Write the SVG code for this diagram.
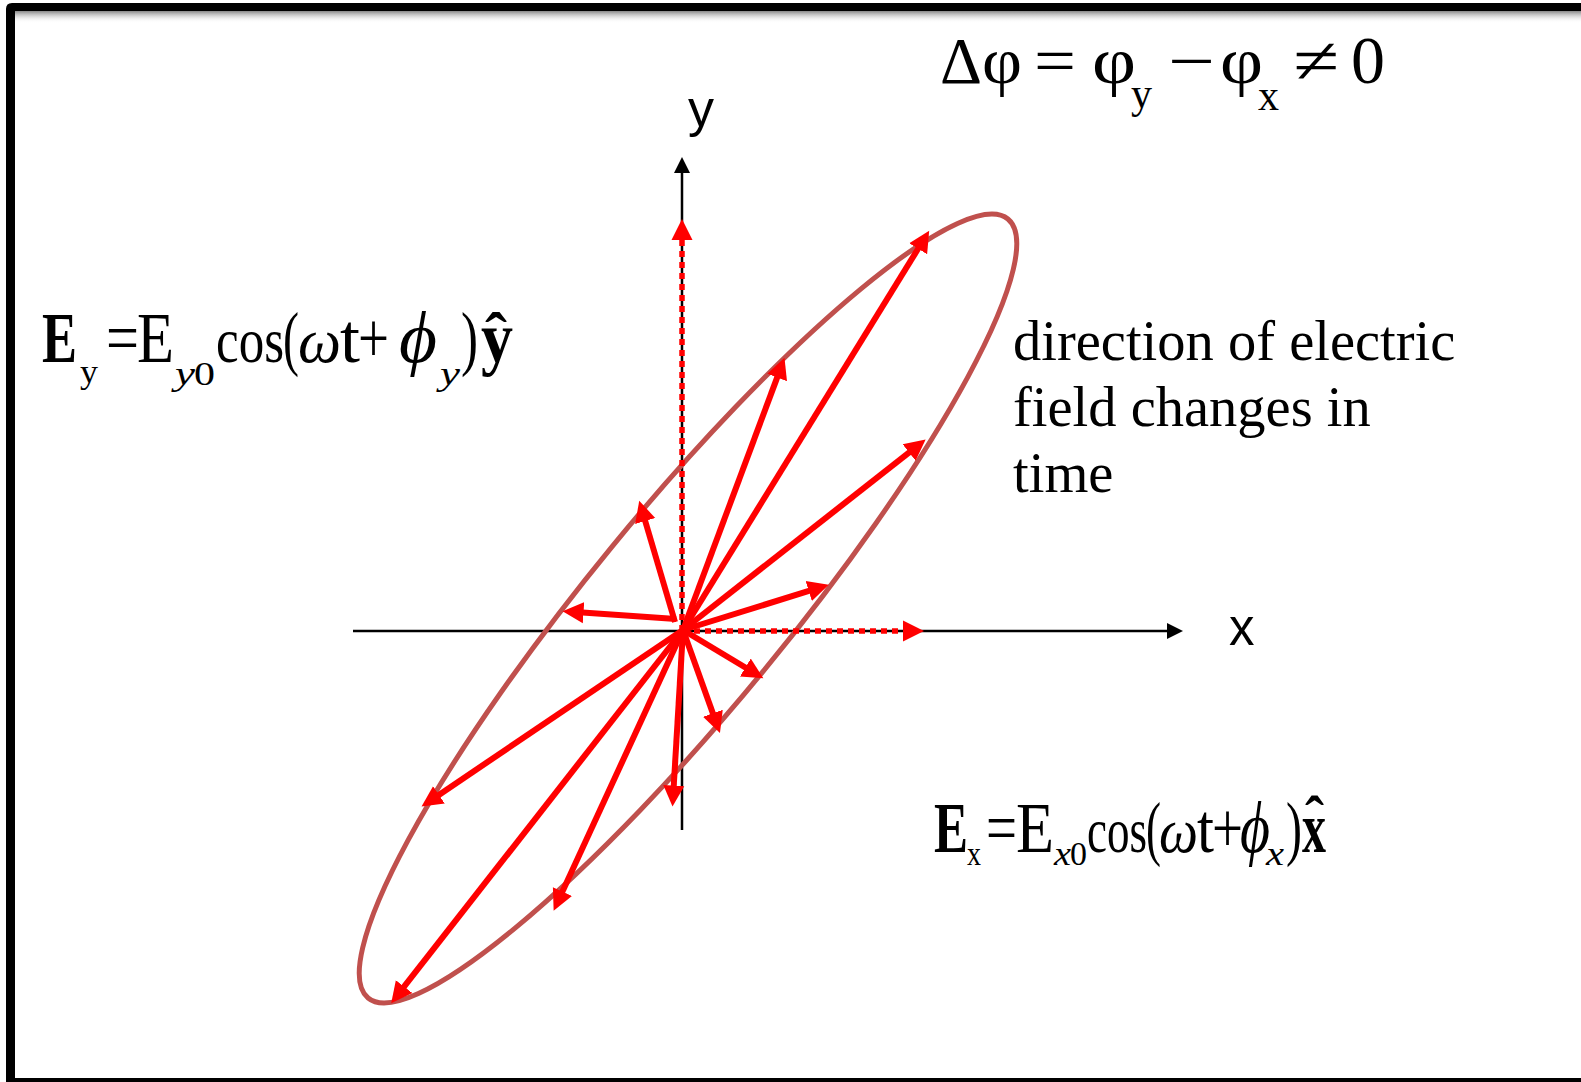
<svg xmlns="http://www.w3.org/2000/svg" width="1581" height="1082" viewBox="0 0 1581 1082">
<defs>
<style>
.s{font-family:"Liberation Serif","Times New Roman",serif;fill:#000}
.a{font-family:"Liberation Sans",Arial,sans-serif;fill:#000}
.b{font-weight:bold}
.i{font-style:italic}
.ax{stroke:#000;stroke-width:2.5;fill:none}
.ev{stroke:#FF0000;stroke-width:6;fill:none}
.dash{stroke:#FF0000;stroke-width:5.5;fill:none;stroke-dasharray:6 5}
</style>
<marker id="ra" markerUnits="userSpaceOnUse" markerWidth="24" markerHeight="24" viewBox="0 -12 24 24" refX="1" refY="0" orient="auto">
<path d="M0,-10.5 L21,0 L0,10.5 z" fill="#FF0000"/>
</marker>
<marker id="ba" markerUnits="userSpaceOnUse" markerWidth="18" markerHeight="18" viewBox="0 -9 18 18" refX="0" refY="0" orient="auto">
<path d="M0,-8 L16,0 L0,8 z" fill="#000"/>
</marker>
<linearGradient id="sh" x1="0" y1="0" x2="0" y2="1">
<stop offset="0" stop-color="#888"/>
<stop offset="1" stop-color="#fff" stop-opacity="0"/>
</linearGradient>
</defs>
<rect width="1581" height="1082" fill="#fff"/>
<g id="frame">
<rect x="15" y="11" width="1566" height="12" fill="url(#sh)"/>
<path d="M6,1082 L6,9 Q6,3 12,3 L1581,3 L1581,11 L15,11 L15,1078 L1581,1078 L1581,1082 z" fill="#000"/>
</g>
<g id="axes">
<line class="ax" x1="682" y1="830" x2="682" y2="173" marker-end="url(#ba)"/>
<line class="ax" x1="353" y1="631" x2="1167" y2="631" marker-end="url(#ba)"/>
</g>
<g id="ellipse">
<ellipse cx="688" cy="608.5" rx="504" ry="98" transform="rotate(-50.6 688 608.5)" fill="none" stroke="#C0504D" stroke-width="5"/>
</g>
<g id="connectors">
<line class="dash" x1="682" y1="631" x2="682" y2="239" marker-end="url(#ra)"/>
<line class="dash" x1="683" y1="631" x2="904" y2="631" marker-end="url(#ra)"/>
<line class="ev" x1="683" y1="630" x2="918.7" y2="247.8" marker-end="url(#ra)"/>
<line class="ev" x1="683" y1="630" x2="777.5" y2="376.6" marker-end="url(#ra)"/>
<line class="ev" x1="683" y1="630" x2="909.9" y2="451.9" marker-end="url(#ra)"/>
<line class="ev" x1="683" y1="630" x2="809.7" y2="590.7" marker-end="url(#ra)"/>
<line class="ev" x1="683" y1="630" x2="746.2" y2="668.0" marker-end="url(#ra)"/>
<line class="ev" x1="683" y1="630" x2="713.2" y2="714.2" marker-end="url(#ra)"/>
<line class="ev" x1="683" y1="630" x2="673.7" y2="786.6" marker-end="url(#ra)"/>
<line class="ev" x1="683" y1="630" x2="562.0" y2="892.5" marker-end="url(#ra)"/>
<line class="ev" x1="683" y1="630" x2="403.5" y2="987.4" marker-end="url(#ra)"/>
<line class="ev" x1="683" y1="630" x2="438.1" y2="795.4" marker-end="url(#ra)"/>
<line class="ev" x1="676" y1="619" x2="582.5" y2="612.6" marker-end="url(#ra)"/>
<line class="ev" x1="675" y1="622" x2="644.9" y2="520.0" marker-end="url(#ra)"/>
</g>
<g id="label-y"><text class="a" x="688" y="126" font-size="52">y</text></g>
<g id="label-x"><text class="a" x="1229" y="645" font-size="51">x</text></g>
<g id="eq-dphi">
<text class="s" x="940" y="83" font-size="66" textLength="42" lengthAdjust="spacingAndGlyphs">Δ</text>
<text class="s" x="982" y="83" font-size="66" textLength="40" lengthAdjust="spacingAndGlyphs">φ</text>
<text class="s" x="1034" y="83" font-size="66" textLength="42" lengthAdjust="spacingAndGlyphs">=</text>
<text class="s" x="1092" y="83" font-size="66" textLength="44" lengthAdjust="spacingAndGlyphs">φ</text>
<text class="s" x="1131" y="108" font-size="44" textLength="21" lengthAdjust="spacingAndGlyphs">y</text>
<text class="s" x="1168" y="83" font-size="66" textLength="47" lengthAdjust="spacingAndGlyphs">−</text>
<text class="s" x="1220" y="83" font-size="66" textLength="43" lengthAdjust="spacingAndGlyphs">φ</text>
<text class="s" x="1258" y="110" font-size="44" textLength="21" lengthAdjust="spacingAndGlyphs">x</text>
<text class="s" x="1293" y="83" font-size="66" textLength="46" lengthAdjust="spacingAndGlyphs">≠</text>
<text class="s" x="1351" y="83" font-size="68" textLength="34" lengthAdjust="spacingAndGlyphs">0</text>
</g>
<g id="eq-ey">
<text class="s b" x="42" y="362" font-size="72" textLength="35" lengthAdjust="spacingAndGlyphs">E</text>
<text class="s" x="80" y="383" font-size="34" textLength="18" lengthAdjust="spacingAndGlyphs">y</text>
<text class="s" x="106" y="362" font-size="72" textLength="33" lengthAdjust="spacingAndGlyphs">=</text>
<text class="s" x="137" y="362" font-size="72" textLength="37" lengthAdjust="spacingAndGlyphs">E</text>
<text class="s i" x="175" y="385" font-size="34" textLength="20" lengthAdjust="spacingAndGlyphs">y</text>
<text class="s" x="194" y="385" font-size="34" textLength="21" lengthAdjust="spacingAndGlyphs">0</text>
<text class="s" x="216" y="362" font-size="63" textLength="68" lengthAdjust="spacingAndGlyphs">cos</text>
<text class="s" x="283" y="362" font-size="72" textLength="16" lengthAdjust="spacingAndGlyphs">(</text>
<text class="s i" x="298" y="362" font-size="64" textLength="43" lengthAdjust="spacingAndGlyphs">ω</text>
<text class="s" x="340" y="362" font-size="70" textLength="20" lengthAdjust="spacingAndGlyphs">t</text>
<text class="s" x="358" y="362" font-size="72" textLength="31" lengthAdjust="spacingAndGlyphs">+</text>
<text class="s i" x="399" y="362" font-size="72" textLength="38" lengthAdjust="spacingAndGlyphs">ϕ</text>
<text class="s i" x="440" y="385" font-size="34" textLength="20" lengthAdjust="spacingAndGlyphs">y</text>
<text class="s" x="461" y="362" font-size="72" textLength="17" lengthAdjust="spacingAndGlyphs">)</text>
<text class="s b" x="481" y="362" font-size="72" textLength="32" lengthAdjust="spacingAndGlyphs">y</text>
<text class="s b" x="485" y="357" font-size="64" textLength="22" lengthAdjust="spacingAndGlyphs">ˆ</text>
</g>
<g id="eq-ex">
<text class="s b" x="934" y="852" font-size="72" textLength="34" lengthAdjust="spacingAndGlyphs">E</text>
<text class="s" x="967" y="865" font-size="34" textLength="14" lengthAdjust="spacingAndGlyphs">x</text>
<text class="s" x="986" y="852" font-size="72" textLength="31" lengthAdjust="spacingAndGlyphs">=</text>
<text class="s" x="1016" y="852" font-size="72" textLength="38" lengthAdjust="spacingAndGlyphs">E</text>
<text class="s i" x="1054" y="865" font-size="34" textLength="17" lengthAdjust="spacingAndGlyphs">x</text>
<text class="s" x="1070" y="865" font-size="34" textLength="17" lengthAdjust="spacingAndGlyphs">0</text>
<text class="s" x="1087" y="852" font-size="63" textLength="60" lengthAdjust="spacingAndGlyphs">cos</text>
<text class="s" x="1146" y="852" font-size="72" textLength="15" lengthAdjust="spacingAndGlyphs">(</text>
<text class="s i" x="1159" y="852" font-size="64" textLength="39" lengthAdjust="spacingAndGlyphs">ω</text>
<text class="s" x="1197" y="852" font-size="70" textLength="17" lengthAdjust="spacingAndGlyphs">t</text>
<text class="s" x="1212" y="852" font-size="72" textLength="31" lengthAdjust="spacingAndGlyphs">+</text>
<text class="s i" x="1240" y="852" font-size="72" textLength="30" lengthAdjust="spacingAndGlyphs">ϕ</text>
<text class="s i" x="1266" y="865" font-size="34" textLength="18" lengthAdjust="spacingAndGlyphs">x</text>
<text class="s" x="1286" y="852" font-size="72" textLength="16" lengthAdjust="spacingAndGlyphs">)</text>
<text class="s b" x="1302" y="852" font-size="72" textLength="24" lengthAdjust="spacingAndGlyphs">x</text>
<text class="s b" x="1305" y="837" font-size="60" textLength="19" lengthAdjust="spacingAndGlyphs">ˆ</text>
</g>
<g id="note">
<text class="s" font-size="56.5">
<tspan x="1013" y="360">direction of electric</tspan>
<tspan x="1013" y="426">field changes in</tspan>
<tspan x="1013" y="492">time</tspan>
</text>
</g>
</svg>
